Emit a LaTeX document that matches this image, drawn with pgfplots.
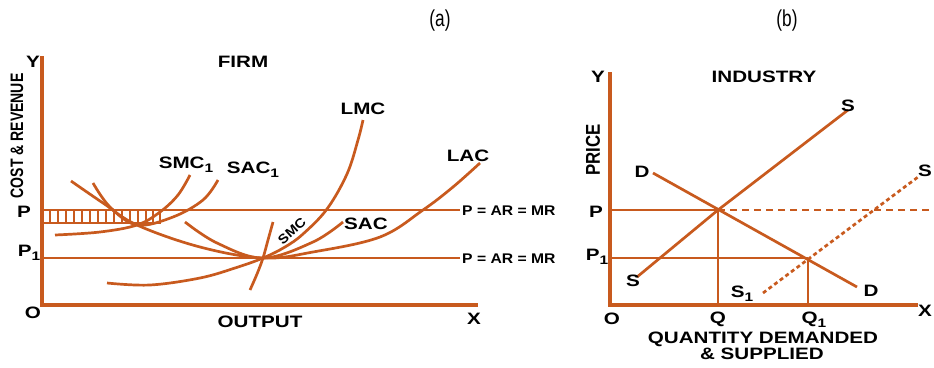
\documentclass[border=0pt]{standalone}
\usepackage{pgfplots}
\pgfplotsset{compat=1.18}
\usepackage{fontspec}
\setmainfont{Liberation Sans}
\newfontfamily\lab[FakeStretch=1.25]{Liberation Sans Bold}
\newfontfamily\labn[FakeStretch=1.12]{Liberation Sans Bold}
\newfontfamily\rotl[FakeStretch=0.78]{Liberation Sans Bold}
\newfontfamily\rotp[FakeStretch=0.84]{Liberation Sans Bold}
\newfontfamily\nar[FakeStretch=0.75]{Liberation Sans}
\definecolor{mc}{RGB}{200,90,30}
\newcommand{\sub}[1]{\raisebox{-0.45ex}{\scalebox{0.75}{#1}}}
\begin{document}
\begin{tikzpicture}
\begin{axis}[x=1pt,y=1pt,y dir=reverse,xmin=0,xmax=934,ymin=0,ymax=367,
  hide axis,clip=false,scale only axis,
  every node/.style={text=mc}]
% ---------- panel (a) ----------
\addplot[mc,line width=3.1pt] coordinates {(42,56)(42,305)(478,305)};
\addplot[mc,line width=2.7pt] coordinates {(42,210)(460,210)};
\addplot[mc,line width=2.7pt] coordinates {(42,258)(460,258)};
% hatched rectangle
\addplot[mc,line width=2.7pt] coordinates {(42,223)(160,223)(160,210)};
\addplot[mc,line width=2.8pt,unbounded coords=jump] coordinates {
 (50,210)(50,223)(50,nan)(58,210)(58,223)(58,nan)(66,210)(66,223)(66,nan)
 (74,210)(74,223)(74,nan)(82,210)(82,223)(82,nan)(90,210)(90,223)(90,nan)
 (98,210)(98,223)(98,nan)(106,210)(106,223)(106,nan)(114,210)(114,223)(114,nan)
 (122,210)(122,223)(122,nan)(130,210)(130,223)(130,nan)(138,210)(138,223)(138,nan)
 (146,210)(146,223)(146,nan)(153,210)(153,223)};
% LAC
\addplot[mc,line width=2.7pt,smooth,tension=0.6] coordinates {
 (71,181)(103,203)(137,225)(200,247)(263,258)(313,252)(380,237)(423,210)(453,187)(480,163)};
% SAC1
\addplot[mc,line width=2.7pt,smooth,tension=0.6] coordinates {
 (93,183)(110,207)(137,225)(173,217)(203,200)(218,180)};
% SMC1
\addplot[mc,line width=2.7pt,smooth,tension=0.6] coordinates {
 (55,235)(100,232)(137,225)(160,212)(178,195)(190,175)};
% SAC
\addplot[mc,line width=2.7pt,smooth,tension=0.6] coordinates {
 (185,222)(217,243)(263,258)(313,242)(343,222)};
% LMC
\addplot[mc,line width=2.7pt,smooth,tension=0.6] coordinates {
 (107,283)(150,285)(200,278)(235,268)(263,258)(285,247)(303,234)(327,209)(347,174)(358,140)(363,120)};
% SMC
\addplot[mc,line width=2.7pt,smooth,tension=0.6] coordinates {
 (250,290)(257,274)(263,258)(268,240)(273,222)};
\node[font=\nar\fontsize{23}{23}\selectfont] at (axis cs:440,21) {(a)};
\node[font=\lab\fontsize{16.5}{16.5}\selectfont] at (axis cs:243,62) {FIRM};
\node[font=\lab\fontsize{16.5}{16.5}\selectfont] at (axis cs:33,62) {Y};
\node[font=\rotl\fontsize{18}{18}\selectfont,rotate=90] at (axis cs:17,136) {COST \& REVENUE};
\node[font=\lab\fontsize{16.5}{16.5}\selectfont] at (axis cs:24,212) {P};
\node[font=\lab\fontsize{16.5}{16.5}\selectfont] at (axis cs:29,253) {P\sub{1}};
\node[font=\lab\fontsize{16.5}{16.5}\selectfont] at (axis cs:33,313) {O};
\node[font=\lab\fontsize{16.5}{16.5}\selectfont] at (axis cs:260,322) {OUTPUT};
\node[font=\lab\fontsize{16.5}{16.5}\selectfont] at (axis cs:474,319) {X};
\node[font=\lab\fontsize{16.5}{16.5}\selectfont] at (axis cs:186,165) {SMC\sub{1}};
\node[font=\lab\fontsize{16.5}{16.5}\selectfont] at (axis cs:253,170) {SAC\sub{1}};
\node[font=\lab\fontsize{16.5}{16.5}\selectfont] at (axis cs:363,109) {LMC};
\node[font=\lab\fontsize{16.5}{16.5}\selectfont] at (axis cs:468,156) {LAC};
\node[font=\lab\fontsize{16.5}{16.5}\selectfont] at (axis cs:366,224) {SAC};
\node[font=\labn\fontsize{13}{13}\selectfont,rotate=42,inner sep=0pt] at (axis cs:292,231) {SMC};
\node[font=\labn\fontsize{14}{14}\selectfont,anchor=west,inner sep=0pt] at (axis cs:462,211) {P = AR = MR};
\node[font=\labn\fontsize{14}{14}\selectfont,anchor=west,inner sep=0pt] at (axis cs:462,259) {P = AR = MR};
% ---------- panel (b) ----------
\addplot[mc,line width=3.1pt] coordinates {(610,72)(610,305)(918,305)};
\addplot[mc,line width=2.7pt] coordinates {(637,277)(718,210)(848,110)};
\addplot[mc,line width=2.7pt] coordinates {(653,173)(857,287)};
\addplot[mc,line width=2.7pt] coordinates {(610,210)(718,210)};
\addplot[mc,line width=2.7pt,dash pattern=on 7pt off 5pt] coordinates {(718,210)(932,210)};
\addplot[mc,line width=2.7pt] coordinates {(610,258)(808,258)};
\addplot[mc,line width=2.7pt] coordinates {(718,210)(718,305)};
\addplot[mc,line width=2.7pt] coordinates {(808,258)(808,305)};
\addplot[mc,line width=2.7pt,dash pattern=on 4pt off 3pt] coordinates {(763,293)(918,177)};
\node[font=\nar\fontsize{23}{23}\selectfont] at (axis cs:787,21) {(b)};
\node[font=\lab\fontsize{16.5}{16.5}\selectfont] at (axis cs:598,77) {Y};
\node[font=\rotp\fontsize{20}{20}\selectfont,rotate=90] at (axis cs:593,150) {PRICE};
\node[font=\lab\fontsize{16.5}{16.5}\selectfont] at (axis cs:764,77) {INDUSTRY};
\node[font=\lab\fontsize{16.5}{16.5}\selectfont] at (axis cs:848,106) {S};
\node[font=\lab\fontsize{16.5}{16.5}\selectfont] at (axis cs:633,281) {S};
\node[font=\lab\fontsize{16.5}{16.5}\selectfont] at (axis cs:642,172) {D};
\node[font=\lab\fontsize{16.5}{16.5}\selectfont] at (axis cs:871,291) {D};
\node[font=\lab\fontsize{16.5}{16.5}\selectfont] at (axis cs:925,171) {S};
\node[font=\lab\fontsize{16.5}{16.5}\selectfont] at (axis cs:742,294) {S\sub{1}};
\node[font=\lab\fontsize{16.5}{16.5}\selectfont] at (axis cs:596,212) {P};
\node[font=\lab\fontsize{16.5}{16.5}\selectfont] at (axis cs:597,257) {P\sub{1}};
\node[font=\lab\fontsize{16.5}{16.5}\selectfont] at (axis cs:612,319) {O};
\node[font=\lab\fontsize{16.5}{16.5}\selectfont] at (axis cs:718,319) {Q};
\node[font=\lab\fontsize{16.5}{16.5}\selectfont] at (axis cs:814,320) {Q\sub{1}};
\node[font=\lab\fontsize{16.5}{16.5}\selectfont] at (axis cs:925,311) {X};
\node[font=\lab\fontsize{16.5}{16.5}\selectfont] at (axis cs:763,339) {QUANTITY DEMANDED};
\node[font=\lab\fontsize{16.5}{16.5}\selectfont] at (axis cs:762,354) {\& SUPPLIED};
\end{axis}
\pgfresetboundingbox
\useasboundingbox (current axis.south west) rectangle (current axis.north east);
\end{tikzpicture}
\end{document}
